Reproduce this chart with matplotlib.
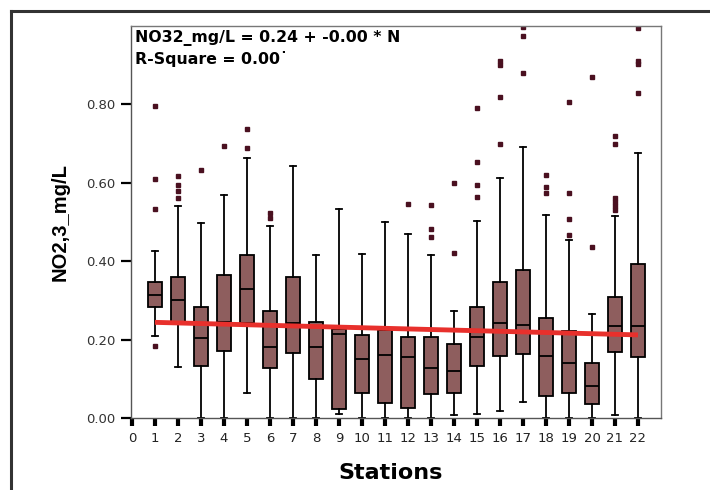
import matplotlib.pyplot as plt
from matplotlib.lines import Line2D

# five-number summaries per station
stations = list(range(1, 23))
whisk_lo = [0.21, 0.13, 0.00, 0.00, 0.063, 0.00, 0.00, 0.00, 0.01, 0.00, 0.00,
            0.00, 0.00, 0.008, 0.01, 0.018, 0.042, 0.00, 0.00, 0.00, 0.008, 0.00]
q1 = [0.282, 0.245, 0.133, 0.171, 0.242, 0.127, 0.165, 0.099, 0.022, 0.063, 0.039,
      0.025, 0.061, 0.063, 0.133, 0.157, 0.164, 0.057, 0.063, 0.036, 0.168, 0.155]
med = [0.315, 0.30, 0.203, 0.245, 0.329, 0.182, 0.242, 0.182, 0.215, 0.151, 0.161,
       0.155, 0.127, 0.12, 0.206, 0.242, 0.237, 0.157, 0.14, 0.082, 0.234, 0.234]
q3 = [0.346, 0.36, 0.283, 0.364, 0.416, 0.272, 0.359, 0.245, 0.227, 0.212, 0.225,
      0.206, 0.206, 0.188, 0.283, 0.346, 0.377, 0.255, 0.223, 0.14, 0.308, 0.394]
whisk_hi = [0.425, 0.54, 0.498, 0.568, 0.662, 0.49, 0.643, 0.415, 0.532, 0.419, 0.50,
            0.47, 0.415, 0.274, 0.503, 0.611, 0.691, 0.519, 0.455, 0.265, 0.515, 0.677]
outliers = [
    [0.184, 0.532, 0.609, 0.795],
    [0.56, 0.58, 0.595, 0.617],
    [0.632],
    [0.694],
    [0.69, 0.738],
    [0.51, 0.522],
    [],
    [],
    [],
    [],
    [],
    [0.547],
    [0.462, 0.481, 0.543],
    [0.421, 0.599],
    [0.564, 0.594, 0.654, 0.79],
    [0.70, 0.82, 0.90, 0.91],
    [0.88, 0.975, 0.998],
    [0.575, 0.589, 0.62],
    [0.466, 0.508, 0.575, 0.807],
    [0.437, 0.87],
    [0.53, 0.54, 0.55, 0.56, 0.70, 0.72],
    [0.829, 0.902, 0.91, 0.995],
]

fit_intercept = 0.244
fit_end = 0.212

fig = plt.figure(figsize=(7.1, 4.9), dpi=100)
ax = fig.add_axes([131 / 710, 72 / 490, 530 / 710, 392 / 490])

stats = []
for i in range(len(stations)):
    stats.append({"whislo": whisk_lo[i], "q1": q1[i], "med": med[i], "q3": q3[i],
                  "whishi": whisk_hi[i], "fliers": outliers[i]})

ax.bxp(stats, positions=stations, widths=0.6, patch_artist=True,
       boxprops=dict(facecolor="#8e5e5e", edgecolor="black", linewidth=1.3),
       medianprops=dict(color="black", linewidth=1.3),
       whiskerprops=dict(color="black", linewidth=1.3),
       capprops=dict(color="black", linewidth=1.3),
       capwidths=0.25,
       flierprops=dict(marker="s", markersize=2.3, markerfacecolor="#4a1020",
                       markeredgecolor="#4a1020", linestyle="none"))

ax.plot([stations[0], stations[-1]], [fit_intercept, fit_end], color="#e8302c",
        linewidth=3.5, zorder=5, solid_capstyle="butt")

ax.set_xlim(-0.04, 23.0)
ax.set_ylim(0, 1.0)
ax.set_xticks(range(0, 23))
ax.set_xticklabels([str(i) for i in range(0, 23)])
ax.set_yticks([0, 0.2, 0.4, 0.6, 0.8])
ax.set_yticklabels(["0.00", "0.20", "0.40", "0.60", "0.80"])

for s in ax.spines.values():
    s.set_color("#777777")
    s.set_linewidth(1.0)
ax.spines["left"].set_color("#555555")
ax.spines["bottom"].set_color("#555555")

ax.tick_params(axis="y", direction="out", length=7, width=1.6, colors="black",
               labelcolor="#333333", labelsize=9.5, pad=4)
ax.tick_params(axis="x", direction="out", length=6, width=3, colors="black",
               labelcolor="#222222", labelsize=9.5, pad=4)

ax.set_ylabel("NO2,3_mg/L", fontsize=14.5, fontweight="bold", labelpad=12,
              family="Liberation Sans")
ax.set_xlabel("Stations", fontsize=16, fontweight="bold", labelpad=10)
ax.xaxis.set_label_coords(0.49, -0.115)

ax.text(0.008, 0.99, "NO32_mg/L = 0.24 + -0.00 * N", transform=ax.transAxes,
        fontsize=11.3, fontweight="bold", va="top", ha="left")
ax.text(0.008, 0.935, "R-Square = 0.00\u02d9", transform=ax.transAxes,
        fontsize=11.3, fontweight="bold", va="top", ha="left")

# outer frame (left and top edges only visible)
fig.add_artist(Line2D([11 / 710, 11 / 710], [0, 1 - 11 / 490], color="#333333",
                      linewidth=2.2, transform=fig.transFigure))
fig.add_artist(Line2D([11 / 710, 1], [1 - 11 / 490, 1 - 11 / 490], color="#333333",
                      linewidth=2.2, transform=fig.transFigure))

fig.savefig("out.png", dpi=100)
